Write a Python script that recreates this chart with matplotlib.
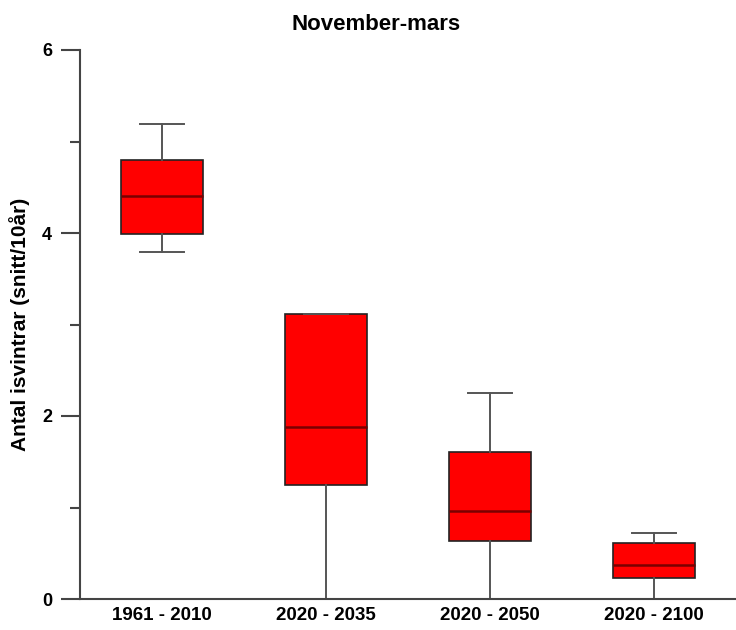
import matplotlib
matplotlib.use("Agg")
import matplotlib.pyplot as plt
from matplotlib.ticker import MultipleLocator

plt.rcParams['font.family'] = ['Liberation Sans', 'DejaVu Sans']
plt.rcParams['font.weight'] = 'bold'

# data
periods = ["1961 - 2010", "2020 - 2035", "2020 - 2050", "2020 - 2100"]
whisker_low = [3.79, 0.0, 0.0, 0.0]
q1 = [3.99, 1.25, 0.63, 0.23]
median = [4.40, 1.88, 0.96, 0.37]
q3 = [4.80, 3.12, 1.61, 0.61]
whisker_high = [5.19, 3.12, 2.25, 0.72]

stats = []
for i, lab in enumerate(periods):
    stats.append(dict(label=lab, whislo=whisker_low[i], q1=q1[i], med=median[i],
                      q3=q3[i], whishi=whisker_high[i], fliers=[]))

fig = plt.figure(figsize=(7.36, 6.3), dpi=100)
ax = fig.add_axes([80 / 736, 31 / 630, 656 / 736, 549 / 630])

ax.bxp(stats, positions=range(1, 5), widths=0.5, patch_artist=True,
       showfliers=False,
       boxprops=dict(facecolor='#ff0000', edgecolor='#222222', linewidth=1.2),
       medianprops=dict(color='#7a0000', linewidth=1.8),
       whiskerprops=dict(color='#555555', linewidth=1.4),
       capprops=dict(color='#555555', linewidth=1.4),
       capwidths=0.27)

ax.set_xlim(0.5, 4.5)
ax.set_ylim(0, 6)
ax.yaxis.set_major_locator(MultipleLocator(2))
ax.yaxis.set_minor_locator(MultipleLocator(1))

for s in ['top', 'right']:
    ax.spines[s].set_visible(False)
for s in ['left', 'bottom']:
    ax.spines[s].set_color('#444444')
    ax.spines[s].set_linewidth(1.5)

ax.tick_params(axis='y', which='major', length=14, width=1.5, color='#444444',
               labelsize=13, pad=6)
ax.tick_params(axis='y', which='minor', length=7, width=1.5, color='#444444')
ax.tick_params(axis='x', length=0, labelsize=13.5, pad=6)
for t in ax.get_xticklabels() + ax.get_yticklabels():
    t.set_fontweight('bold')

ax.set_ylabel("Antal isvintrar (snitt/10år)", fontsize=15, fontweight='bold')
ax.yaxis.set_label_coords(-50 / 656, 0.5)
fig.text(376 / 736, 1 - 25 / 630, "November-mars", ha='center', va='center',
         fontsize=16, fontweight='bold')

fig.savefig("out.png", dpi=100)
